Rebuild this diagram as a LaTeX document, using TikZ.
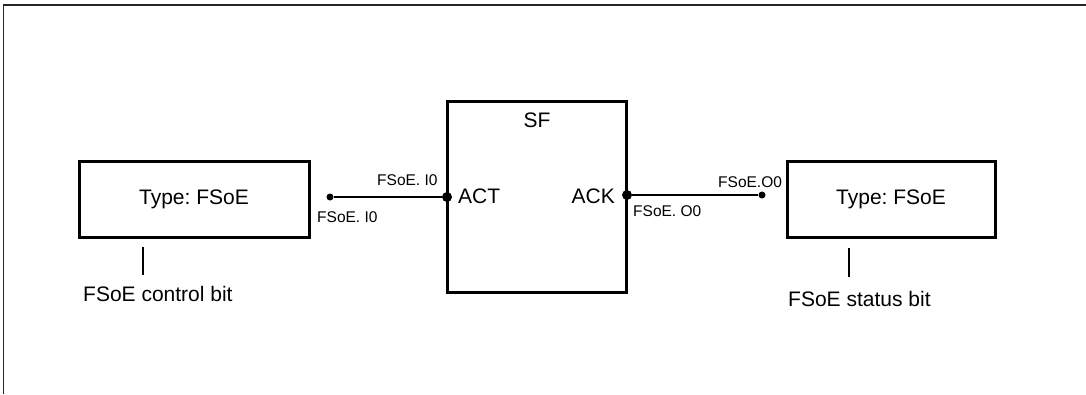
\documentclass[tikz,border=0pt]{standalone}
\usepackage{fontspec}
\setmainfont{Liberation Sans}
\frenchspacing
\begin{document}
\begin{tikzpicture}[x=1pt, y=-1pt, font=\fontsize{21}{25}\selectfont,
  blk/.style={draw, line width=3pt, inner sep=0pt},
  pin/.style={font=\fontsize{15.5}{18}\selectfont, inner sep=0pt},
  bigdot/.style={circle, fill, inner sep=0pt, minimum size=10pt},
  smalldot/.style={circle, fill, inner sep=0pt, minimum size=7pt},
  wire/.style={line width=2.6pt}]
  \useasboundingbox (0,0) rectangle (1086,394);
  \draw[line width=1.8pt, black!85] (3.5,394) |- (1086,5);
  \node[blk, minimum width=230pt, minimum height=76pt] (ctrlbox) at (194,199) {Type: FSoE};
  \node[blk, minimum width=208pt, minimum height=76pt] (statbox) at (891,199) {Type: FSoE};
  \node[blk, minimum width=179pt, minimum height=191pt] (sf) at (536.5,196.5) {};
  \node[inner sep=0pt] (sftitle) at (537,120) {SF};
  \node[inner sep=0pt, anchor=west] (act) at (458,196) {ACT};
  \node[inner sep=0pt, anchor=east] (ack) at (615,196) {ACK};
  \node[bigdot] (actpin) at (447,197) {};
  \node[smalldot] (inpin) at (330,197) {};
  \node[bigdot] (ackpin) at (627,195) {};
  \node[smalldot] (outpin) at (762,195) {};
  \draw[wire] (inpin) -- (actpin);
  \draw[wire] (ackpin) -- (outpin);
  \node[pin, anchor=west] (inup) at (377,180) {FSoE. I0};
  \node[pin, anchor=west] (indown) at (317,217) {FSoE. I0};
  \node[pin, anchor=west] (outup) at (718,182) {FSoE.O0};
  \node[pin, anchor=west] (outdown) at (633,211.5) {FSoE. O0};
  \node[inner sep=0pt, anchor=west] (ctrlbit) at (83,293.5) {FSoE control bit};
  \node[inner sep=0pt, anchor=west] (statbit) at (788,298.5) {FSoE status bit};
  \coordinate (ctrltop) at (143,247);
  \coordinate (ctrlend) at (143,275);
  \coordinate (stattop) at (849,248);
  \coordinate (statend) at (849,277);
  \draw[wire] (ctrltop) -- (ctrlend);
  \draw[wire] (stattop) -- (statend);
\end{tikzpicture}
\end{document}
